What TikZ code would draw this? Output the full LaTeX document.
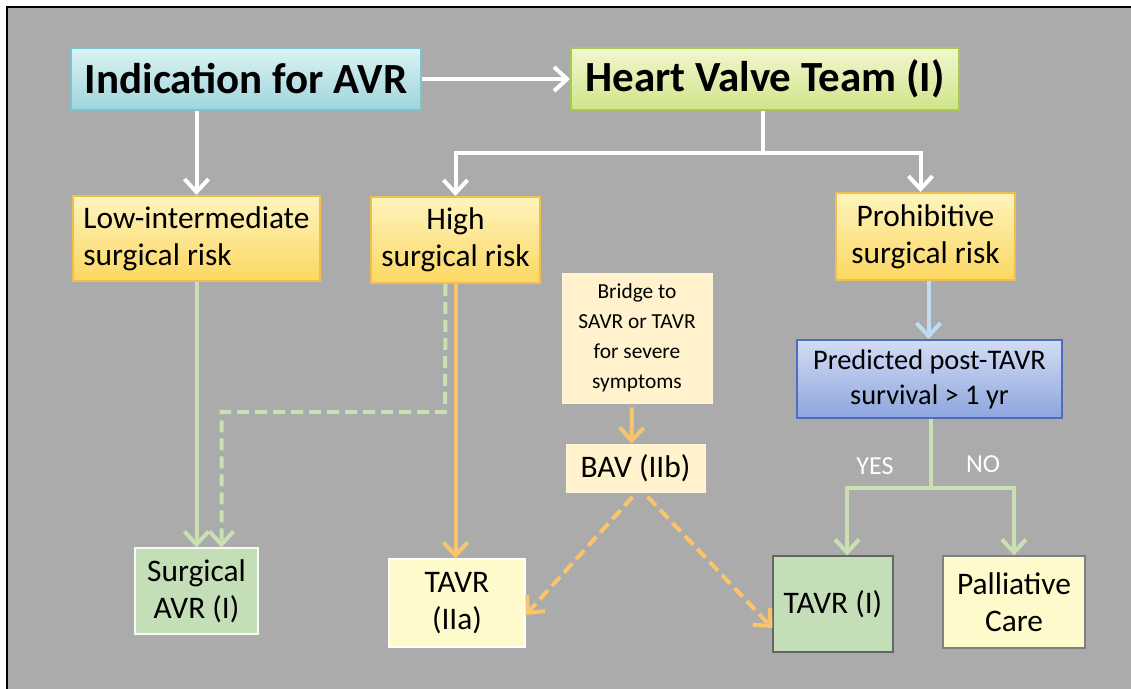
\documentclass[tikz,border=0pt]{standalone}
\usepackage{fontspec}
\setmainfont{Carlito}
\usepackage{tikz}
\usetikzlibrary{arrows.meta}
\definecolor{panel}{HTML}{ABABAB}
\definecolor{tealtop}{HTML}{DCF2F3}
\definecolor{tealbot}{HTML}{9ED5DB}
\definecolor{tealline}{HTML}{7DC3CB}
\definecolor{limetop}{HTML}{F1F7CE}
\definecolor{limebot}{HTML}{D0E48A}
\definecolor{limeline}{HTML}{A8C957}
\definecolor{goldtop}{HTML}{FEF4BC}
\definecolor{goldbot}{HTML}{FCD762}
\definecolor{goldline}{HTML}{F0BE4C}
\definecolor{bluetop}{HTML}{D2DCF4}
\definecolor{bluebot}{HTML}{8EA5DD}
\definecolor{blueline}{HTML}{4F6DBE}
\definecolor{cream}{HTML}{FFF2CC}
\definecolor{paleyel}{HTML}{FFFACB}
\definecolor{sage}{HTML}{C4DFB8}
\definecolor{greenarr}{HTML}{C8E0B2}
\definecolor{orangearr}{HTML}{F9C56C}
\definecolor{bluearr}{HTML}{BFDDF2}
\tikzstyle{every node}=[font=\fontsize{15.7}{18.5}\selectfont,align=center,inner sep=2pt]
\tikzstyle{headbox}=[draw,line width=1pt,font=\bfseries\fontsize{21.5}{24}\selectfont]
\tikzstyle{riskbox}=[draw=goldline,line width=1pt,top color=goldtop,bottom color=goldbot]
\tikzstyle{plainbox}=[fill=cream,draw=cream!80!white]
\tikzstyle{endbox}=[line width=0.6pt]
\tikzstyle{link}=[line width=2pt,-{Straight Barb[length=6.5pt,width=12pt]}]

\begin{document}
\begin{tikzpicture}[x=0.5pt,y=-0.5pt]
\useasboundingbox (0,0) rectangle (1131,689);
\fill[white] (0,0) rectangle (1131,689);
\fill[panel] (7,7) rectangle (1131,689);
\draw[line width=1.2pt] (7,689) -- (7,7) -- (1131,7);

% top row
\node[headbox,draw=tealline,top color=tealtop,bottom color=tealbot,minimum width=175pt,minimum height=31pt] (ind) at (246,79) {Indication for AVR};
\node[headbox,draw=limeline,top color=limetop,bottom color=limebot,minimum width=194pt,minimum height=31pt] (hvt) at (765,79) {Heart Valve Team (I)};

% risk levels
\node[riskbox,minimum width=123.5pt,minimum height=42.5pt,align=left] (low) at (196.5,238.5) {Low-intermediate\\surgical risk};
\node[riskbox,minimum width=84.5pt,minimum height=43pt] (high) at (455.5,240) {High\\surgical risk};
\node[riskbox,minimum width=89.5pt,minimum height=43.5pt] (prohib) at (925.5,236.5) {Prohibitive\\surgical risk};

\node[plainbox,minimum width=75pt,minimum height=65pt,font=\fontsize{10.7}{15}\selectfont] (bridge) at (637,338) {Bridge to\\SAVR or TAVR\\for severe\\symptoms};
\node[plainbox,minimum width=69.5pt,minimum height=24pt] (bav) at (635.5,468) {BAV (IIb)};
\node[draw=blueline,line width=1pt,top color=bluetop,bottom color=bluebot,minimum width=132.5pt,minimum height=39pt,font=\fontsize{14.2}{17.5}\selectfont] (pred) at (929.5,379) {Predicted post-TAVR\\survival \textgreater{} 1 yr};

% outcomes
\node[endbox,draw=white!85!sage,fill=sage,minimum width=61.5pt,minimum height=43pt] (savr) at (196.5,591) {Surgical\\AVR (I)};
\node[endbox,draw=white!85!paleyel,fill=paleyel,minimum width=68pt,minimum height=44pt] (tavra) at (457,603) {TAVR\\(IIa)};
\node[endbox,draw=black!60,fill=sage,minimum width=60pt,minimum height=48pt] (tavri) at (833,604) {TAVR (I)};
\node[endbox,draw=black!50,fill=paleyel,minimum width=71pt,minimum height=46pt] (pall) at (1014,602) {Palliative\\Care};

\node[text=white,font=\fontsize{13}{15}\selectfont] (yes) at (875,466) {YES};
\node[text=white,font=\fontsize{13}{15}\selectfont] (no) at (983,464) {NO};

% white arrows
\draw[link,white] (ind.east) -- (hvt.west);
\draw[link,white] (low.north |- ind.south) -- (low.north);
\coordinate (split) at (763,153);
\draw[line width=2pt,white] (hvt.south -| split) -- (split);
\draw[link,white] (split) -| (high.north);
\draw[link,white] (split) -| ([xshift=-2.5pt]prohib.north);

% left side
\draw[link,greenarr] (low.south) -- (low.south |- savr.north);
\coordinate (turn) at (445,412);
\draw[link,greenarr,dash pattern=on 6pt off 3pt] ([xshift=-5pt]high.south) -- (turn) -| ([xshift=12.5pt]savr.north);
\draw[link,orangearr] (high.south) -- (high.south |- tavra.north);

% bridge
\draw[link,orangearr] ([xshift=-2.5pt,yshift=-2pt]bridge.south) -- ([xshift=-2pt]bav.north);
\draw[link,orangearr,dash pattern=on 6pt off 3pt,shorten <=3pt] ([xshift=0.5pt]bav.south) -- ([yshift=-6pt]tavra.east);
\draw[link,orangearr,dash pattern=on 6pt off 3pt,shorten <=3pt] ([xshift=4pt]bav.south) -- ([yshift=-12pt]tavri.west);

% right side
\draw[link,bluearr] ([xshift=1.5pt]prohib.south) -- ([xshift=1.5pt]prohib.south |- pred.north);
\coordinate (fork) at (931,488);
\draw[line width=2pt,greenarr] (pred.south -| fork) -- (fork);
\draw[link,greenarr] (fork) -| ([xshift=7pt]tavri.north);
\draw[link,greenarr] (fork) -| (pall.north);
\end{tikzpicture}
\end{document}
